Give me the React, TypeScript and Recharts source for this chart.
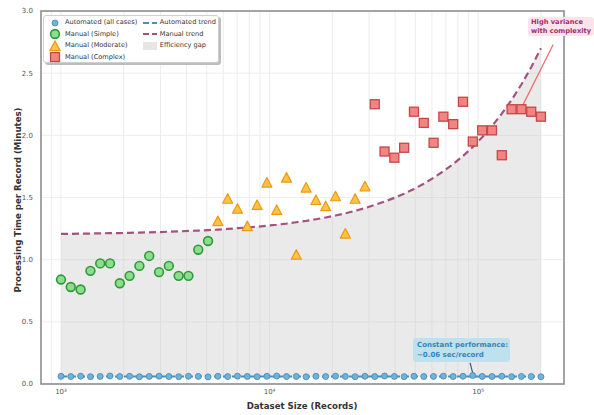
import React from 'react';
import {
  ComposedChart, XAxis, YAxis, CartesianGrid, Scatter, Line, Area, ReferenceLine,
} from 'recharts';

// Dataset sizes (records), log-spaced from 10^3 to 2x10^5
const datasetSizes = [
  1000, 1114, 1242, 1384, 1542, 1718, 1914, 2133, 2377, 2649,
  2952, 3289, 3665, 4084, 4551, 5071, 5651, 6297, 7017, 7819,
  8713, 9709, 10819, 12055, 13434, 14969, 16680, 18587, 20712, 23080,
  25718, 28658, 31934, 35585, 39653, 44186, 49237, 54866, 61138, 68127,
  75915, 84594, 94264, 104570, 116520, 129840, 144680, 161220, 179650, 200000,
];

const automatedTimes = [
  0.062, 0.060, 0.063, 0.059, 0.061, 0.064, 0.060, 0.062, 0.058, 0.061,
  0.063, 0.060, 0.059, 0.062, 0.061, 0.057, 0.062, 0.060, 0.063, 0.061,
  0.059, 0.062, 0.064, 0.060, 0.061, 0.058, 0.062, 0.060, 0.063, 0.061,
  0.059, 0.062, 0.060, 0.064, 0.061, 0.059, 0.062, 0.060, 0.061, 0.063,
  0.060, 0.062, 0.068, 0.061, 0.060, 0.062, 0.059, 0.061, 0.060, 0.058,
];

const manualSimple = [0.84, 0.78, 0.76, 0.91, 0.97, 0.97, 0.81, 0.87, 0.95, 1.03, 0.90, 0.95, 0.87, 0.87, 1.08, 1.15];
const manualModerate = [1.31, 1.49, 1.41, 1.27, 1.44, 1.62, 1.40, 1.66, 1.04, 1.58, 1.48, 1.43, 1.51, 1.21, 1.49, 1.59];
const manualComplex = [2.25, 1.87, 1.82, 1.90, 2.19, 2.10, 1.94, 2.15, 2.09, 2.27, 1.95, 2.04, 2.04, 1.84, 2.21, 2.21, 2.19, 2.15];

const manualTrend = [
  1.208, 1.208, 1.209, 1.210, 1.212, 1.213, 1.214, 1.216, 1.218, 1.220,
  1.222, 1.225, 1.227, 1.231, 1.234, 1.238, 1.242, 1.247, 1.253, 1.259,
  1.265, 1.273, 1.281, 1.290, 1.301, 1.312, 1.325, 1.339, 1.355, 1.373,
  1.393, 1.415, 1.440, 1.467, 1.497, 1.531, 1.569, 1.611, 1.659, 1.711,
  1.769, 1.834, 1.907, 1.984, 2.074, 2.174, 2.285, 2.409, 2.547, 2.700,
];
const automatedTrendValue = 0.06;

const xTicks = [900, 1000, 2000, 3000, 4000, 5000, 6000, 7000, 8000, 9000,
  10000, 20000, 30000, 40000, 50000, 60000, 70000, 80000, 90000, 100000, 200000];
const xTickLabels: Record<number, string> = { 1000: '10³', 10000: '10⁴', 100000: '10⁵' };
const yTicks = [0, 0.5, 1.0, 1.5, 2.0, 2.5, 3.0];

const FONT = '"DejaVu Sans", sans-serif';

const trendRows = datasetSizes.map((x, i) => ({
  x,
  manual: manualTrend[i],
  auto: automatedTrendValue,
  gap: [automatedTrendValue, manualTrend[i]],
}));
const autoRows = datasetSizes.map((x, i) => ({ x, y: automatedTimes[i] }));
const simpleRows = manualSimple.map((y, i) => ({ x: datasetSizes[i], y }));
const moderateRows = manualModerate.map((y, i) => ({ x: datasetSizes[16 + i], y }));
const complexRows = manualComplex.map((y, i) => ({ x: datasetSizes[32 + i], y }));

const autoShape = (p: any) => (
  <circle cx={p.cx} cy={p.cy} r={3} fill="#72b2d9" stroke="#3d86b8" strokeWidth={0.8} />
);
const simpleShape = (p: any) => (
  <circle cx={p.cx} cy={p.cy} r={4.4} fill="#8edc8e" stroke="#2f9a3a" strokeWidth={1.6} />
);
const moderateShape = (p: any) => (
  <polygon
    points={`${p.cx},${p.cy - 5} ${p.cx - 5},${p.cy + 4.5} ${p.cx + 5},${p.cy + 4.5}`}
    fill="#ffc247" stroke="#eb9a12" strokeWidth={1.2} strokeLinejoin="round"
  />
);
const complexShape = (p: any) => (
  <rect x={p.cx - 4.5} y={p.cy - 4.5} width={9} height={9} fill="#f28484" stroke="#c44848" strokeWidth={1.3} />
);

const legendText: React.CSSProperties = { fontSize: 6.6, color: '#333', whiteSpace: 'nowrap', lineHeight: '11.5px' };

function LegendBox() {
  const row = (marker: React.ReactNode, label: string) => (
    <div style={{ display: 'flex', alignItems: 'center', height: 11.5 }}>
      <div style={{ width: 20, display: 'flex', justifyContent: 'center', alignItems: 'center' }}>{marker}</div>
      <span style={legendText}>{label}</span>
    </div>
  );
  return (
    <div style={{
      position: 'absolute', left: 43, top: 15, width: 176, height: 48,
      background: '#fff', border: '1px solid #cfcfcf', borderRadius: 3,
      boxShadow: '2px 2px 0 #bdbdbd', fontFamily: FONT, boxSizing: 'border-box',
      display: 'flex', padding: '1px 2px 0 1px',
    }}>
      <div style={{ width: 98 }}>
        {row(<svg width={10} height={10}><circle cx={5} cy={5} r={3} fill="#72b2d9" stroke="#3d86b8" strokeWidth={0.8} /></svg>, 'Automated (all cases)')}
        {row(<svg width={12} height={12}><circle cx={6} cy={6} r={4.4} fill="#8edc8e" stroke="#2f9a3a" strokeWidth={1.6} /></svg>, 'Manual (Simple)')}
        {row(<svg width={12} height={12}><polygon points="6,1 1,10.5 11,10.5" fill="#ffc247" stroke="#eb9a12" strokeWidth={1.2} /></svg>, 'Manual (Moderate)')}
        {row(<svg width={12} height={12}><rect x={1.5} y={1.5} width={9} height={9} fill="#f28484" stroke="#c44848" strokeWidth={1.3} /></svg>, 'Manual (Complex)')}
      </div>
      <div>
        {row(<svg width={14} height={6}><line x1={0} y1={3} x2={14} y2={3} stroke="#4a8fc0" strokeWidth={2} strokeDasharray="6 3" /></svg>, 'Automated trend')}
        {row(<svg width={14} height={6}><line x1={0} y1={3} x2={14} y2={3} stroke="#a4527f" strokeWidth={2} strokeDasharray="6 3" /></svg>, 'Manual trend')}
        {row(<svg width={14} height={8}><rect x={0} y={0} width={14} height={8} fill="#e6e6e6" /></svg>, 'Efficiency gap')}
      </div>
    </div>
  );
}

export default function App() {
  return (
    <div style={{ position: 'absolute', left: 0, top: 0, width: 594, height: 415, background: '#fff', overflow: 'hidden' }}>
      <ComposedChart
        width={594}
        height={415}
        data={trendRows}
        margin={{ top: 11, right: 30, bottom: 0, left: 0 }}
      >
        <CartesianGrid stroke="#ebebeb" strokeWidth={0.9} />
        <XAxis
          dataKey="x"
          type="number"
          scale="log"
          domain={[802, 258000]}
          ticks={xTicks}
          interval={0}
          allowDataOverflow
          height={31}
          tickSize={0}
          tickMargin={5}
          axisLine={false}
          tickLine={false}
          tickFormatter={(v: number) => xTickLabels[v] ?? ''}
          tick={{ fontSize: 7, fill: '#555', fontFamily: FONT }}
        />
        <YAxis
          type="number"
          domain={[0, 3]}
          ticks={yTicks}
          width={41}
          tickSize={0}
          tickMargin={8}
          axisLine={false}
          tickLine={false}
          tickFormatter={(v: number) => v.toFixed(1)}
          tick={{ fontSize: 7, fill: '#555', fontFamily: FONT }}
        />
        <Area
          dataKey="gap"
          type="linear"
          stroke="none"
          fill="#c4c4c4"
          fillOpacity={0.36}
          isAnimationActive={false}
        />
        <Line
          dataKey="auto"
          type="linear"
          stroke="#4a8fc0"
          strokeWidth={2}
          strokeDasharray="6 3"
          dot={false}
          isAnimationActive={false}
        />
        <Line
          dataKey="manual"
          type="linear"
          stroke="#a4527f"
          strokeWidth={2.2}
          strokeDasharray="7 4"
          dot={false}
          isAnimationActive={false}
        />
        <ReferenceLine
          segment={[{ x: 161220, y: 2.22 }, { x: 229000, y: 2.73 }]}
          stroke="#f26b6b"
          strokeWidth={1.3}
          ifOverflow="visible"
        />
        <ReferenceLine
          segment={[{ x: 91500, y: 0.17 }, { x: 94264, y: 0.085 }]}
          stroke="#235f8c"
          strokeWidth={1.2}
          ifOverflow="visible"
        />
        <Scatter data={autoRows} dataKey="y" shape={autoShape} isAnimationActive={false} />
        <Scatter data={simpleRows} dataKey="y" shape={simpleShape} isAnimationActive={false} />
        <Scatter data={moderateRows} dataKey="y" shape={moderateShape} isAnimationActive={false} />
        <Scatter data={complexRows} dataKey="y" shape={complexShape} isAnimationActive={false} />
      </ComposedChart>

      <svg width={594} height={415} style={{ position: 'absolute', left: 0, top: 0, pointerEvents: 'none' }}>
        <rect x={41} y={11} width={523} height={373} fill="none" stroke="#8f8f8f" strokeWidth={1.6} />
        <text x={302} y={409} textAnchor="middle" fontSize={8.6} fontWeight="bold" fill="#333" fontFamily={FONT}>
          Dataset Size (Records)
        </text>
        <text
          x={21}
          y={200}
          textAnchor="middle"
          fontSize={8.6}
          fontWeight="bold"
          fill="#333"
          fontFamily={FONT}
          transform="rotate(-90 21 200)"
        >
          Processing Time per Record (Minutes)
        </text>
      </svg>

      <LegendBox />

      <div style={{
        position: 'absolute', left: 528, top: 17, width: 66, height: 19, background: '#fde3ea',
        borderRadius: 3, fontFamily: FONT, fontWeight: 'bold', fontSize: 6.7, color: '#a0306a',
        lineHeight: '9.2px', padding: '1px 0 0 3px', boxSizing: 'border-box', whiteSpace: 'nowrap',
      }}>
        High variance<br />with complexity
      </div>

      <div style={{
        position: 'absolute', left: 413, top: 338, width: 97, height: 24, background: '#bfe1ee',
        borderRadius: 3, fontFamily: FONT, fontWeight: 'bold', fontSize: 7, color: '#3386bb',
        lineHeight: '9.5px', padding: '3px 0 0 4px', boxSizing: 'border-box', whiteSpace: 'nowrap',
      }}>
        Constant performance:<br />~0.06 sec/record
      </div>
    </div>
  );
}
